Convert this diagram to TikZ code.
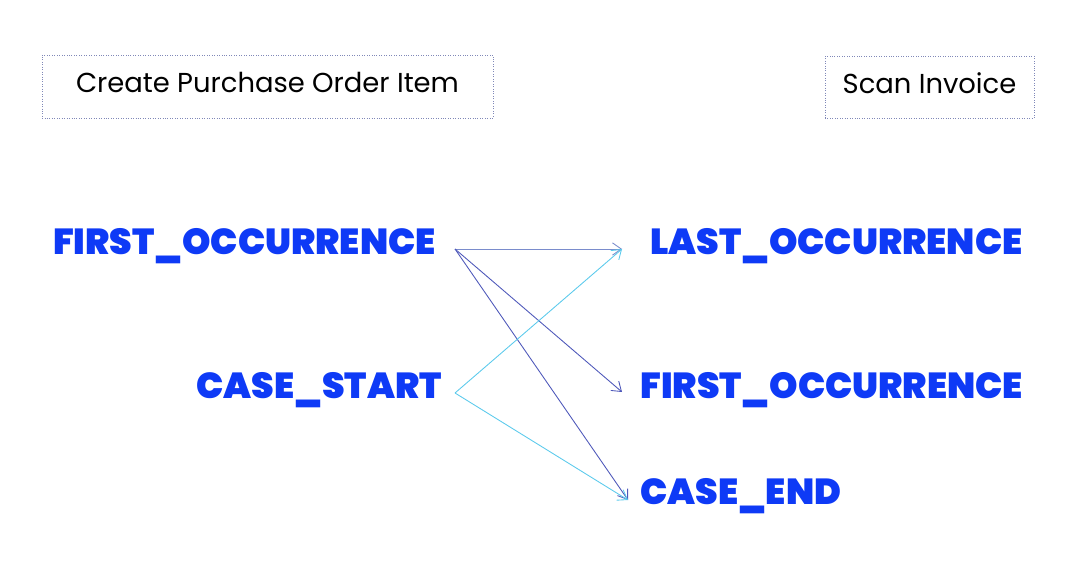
\documentclass[tikz,border=0pt]{standalone}
\usepackage{fontspec}
\setmainfont{Poppins}
\newfontfamily\heavyfont{Poppins}[UprightFont={* Black}]
\usetikzlibrary{arrows.meta,positioning}
\definecolor{lblblue}{RGB}{14,58,246}
\definecolor{boxgray}{RGB}{128,136,184}
\definecolor{darkarr}{RGB}{78,88,186}
\definecolor{palearr}{RGB}{122,140,204}
\definecolor{cyanarr}{RGB}{92,202,236}
\tikzset{
  lbl/.style={text=lblblue,font=\fontsize{20.6}{24}\selectfont\heavyfont,inner ysep=0pt},
  act/.style={rectangle,draw=boxgray,densely dotted,font=\fontsize{15.6}{18}\selectfont,text depth=0.5em},
  arr/.style={-{Straight Barb[length=5pt,width=7pt]},line width=0.5pt}
}
\begin{document}
\begin{tikzpicture}[x=0.02cm,y=-0.02cm]
\useasboundingbox (0,0) rectangle (1081,570);

% activities
\node (cpoi) [act,minimum width=9.02cm,minimum height=1.26cm] at (267.5,86.5) {Create Purchase Order Item};
\node (scan) [act,minimum width=4.18cm,minimum height=1.24cm] at (929.5,87) {Scan Invoice};

% source side
\node (srcfirst) [lbl,anchor=east,inner xsep=0.38cm] at (455,246) {FIRST\_OCCURRENCE};
\node (srcstart) [lbl,anchor=east,inner xsep=0.26cm] at (455,390) {CASE\_START};

% target side
\node (tgtlast) [lbl,anchor=west,inner xsep=0.56cm] at (622,246) {LAST\_OCCURRENCE};
\node (tgtfirst) [lbl,anchor=west,inner xsep=0.36cm] at (622,390) {FIRST\_OCCURRENCE};
\node (tgtend) [lbl,anchor=west,inner xsep=0.24cm] at (628,496) {CASE\_END};

\draw [arr,palearr] ([yshift=-0.06cm]srcfirst.east) -- ([yshift=-0.06cm]tgtlast.west);
\draw [arr,darkarr] ([yshift=-0.06cm]srcfirst.east) -- ([yshift=-0.04cm]tgtfirst.west);
\draw [arr,darkarr] ([yshift=-0.06cm]srcfirst.east) -- ([yshift=-0.08cm]tgtend.west);
\draw [arr,cyanarr] ([yshift=-0.06cm]srcstart.east) -- ([yshift=-0.06cm]tgtlast.west);
\draw [arr,cyanarr] ([yshift=-0.06cm]srcstart.east) -- ([yshift=-0.08cm]tgtend.west);

\end{tikzpicture}
\end{document}
